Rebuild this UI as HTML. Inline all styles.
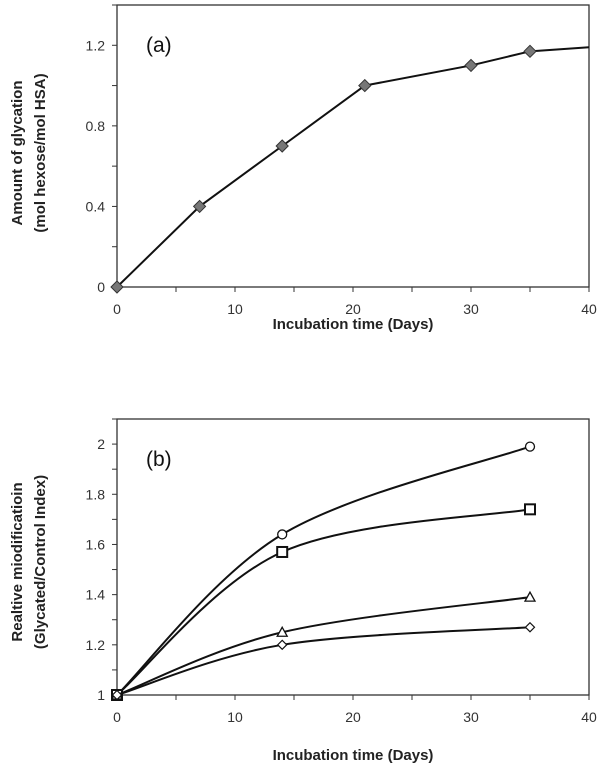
<!DOCTYPE html>
<html><head><meta charset="utf-8"><style>
body{margin:0;background:#fff}
svg{display:block;font-family:"Liberation Sans",sans-serif}
.tk{font-size:14px;fill:#333}
.ttl{font-size:15px;font-weight:bold;fill:#222}
</style></head><body>
<svg id="s" width="602" height="769"></svg>
<script>
const aDays=[0,7,14,21,30,35,40];
const aVals=[0,0.4,0.7,1.0,1.1,1.17,1.19];
const aXTicks=[0,10,20,30,40];
const aYTicks=[0,0.4,0.8,1.2];
const bDays=[0,14,35];
const bCircle=[1,1.64,1.99];
const bSquare=[1,1.57,1.74];
const bTriangle=[1,1.25,1.39];
const bDiamond=[1,1.2,1.27];
const bXTicks=[0,10,20,30,40];
const bYTicks=[1,1.2,1.4,1.6,1.8,2];
const NS="http://www.w3.org/2000/svg",S=document.getElementById('s');
function mk(t,a,p){const e=document.createElementNS(NS,t);for(const k in a)e.setAttribute(k,a[k]);(p||S).appendChild(e);return e;}
function axes(g,L,R,T,B,xmax,ymin,ymax,xt,yt,minorY,fmt){
  mk('rect',{x:L,y:T,width:R-L,height:B-T,fill:'none',stroke:'#333','stroke-width':1.3},g);
  const X=v=>L+(R-L)*v/xmax, Y=v=>B-(B-T)*(v-ymin)/(ymax-ymin);
  for(let v=0;v<=xmax;v+=5){mk('line',{x1:X(v),x2:X(v),y1:B,y2:B+5,stroke:'#333'},g);}
  for(let v=ymin;v<=ymax+1e-9;v+=minorY){mk('line',{x1:L-5,x2:L,y1:Y(v),y2:Y(v),stroke:'#333'},g);}
  xt.forEach(v=>{const t=mk('text',{x:X(v),y:B+27,'text-anchor':'middle',class:'tk'},g);t.textContent=v;
    
    });
  yt.forEach(v=>{const t=mk('text',{x:L-12,y:Y(v)+5,'text-anchor':'end',class:'tk'},g);t.textContent=fmt(v);
    
    });
  return [X,Y];
}
function smooth(pts){
  let d='M'+pts[0][0]+','+pts[0][1];
  for(let i=0;i<pts.length-1;i++){
    const p0=pts[i-1]||pts[i],p1=pts[i],p2=pts[i+1],p3=pts[i+2]||p2,k=6;
    d+=' C'+(p1[0]+(p2[0]-p0[0])/k)+','+(p1[1]+(p2[1]-p0[1])/k)+' '+(p2[0]-(p3[0]-p1[0])/k)+','+(p2[1]-(p3[1]-p1[1])/k)+' '+p2[0]+','+p2[1];
  }
  return d;
}
const ga=mk('g',{});


const [XA,YA]=axes(ga,117,589,5,287,40,0,1.4,aXTicks,aYTicks,0.2,v=>v===0?'0':v.toFixed(1));
const la=mk('polyline',{points:aDays.map((d,i)=>XA(d)+','+YA(aVals[i])).join(' '),fill:'none',stroke:'#111','stroke-width':2},ga);


aDays.forEach((d,i)=>{if(d===40)return;const x=XA(d),y=YA(aVals[i]);
  const m=mk('polygon',{points:`${x},${y-6} ${x+6},${y} ${x},${y+6} ${x-6},${y}`,fill:'#777',stroke:'#333','stroke-width':1},ga);
  
  });
let t=mk('text',{x:146,y:52,'font-size':21,fill:'#111'},ga);t.textContent='(a)';

t=mk('text',{x:353,y:329,'text-anchor':'middle',class:'ttl'},ga);t.textContent='Incubation time (Days)';

t=mk('text',{x:0,y:0,'text-anchor':'middle',class:'ttl',transform:'translate(22,153) rotate(-90)'},ga);t.textContent='Amount of glycation';

t=mk('text',{x:0,y:0,'text-anchor':'middle',class:'ttl',transform:'translate(45,153) rotate(-90)'},ga);t.textContent='(mol hexose/mol HSA)';

const gb=mk('g',{});


const [XB,YB]=axes(gb,117,589,419,695,40,1,2.1,bXTicks,bYTicks,0.1,v=>(Math.abs(v-Math.round(v))<1e-9)?String(Math.round(v)):v.toFixed(1));
const series=[['circle',bCircle],['square',bSquare],['triangle',bTriangle],['diamond',bDiamond]];
series.forEach(([nm,vals])=>{
  const p=mk('path',{d:smooth(bDays.map((d,i)=>[XB(d),YB(vals[i])])),fill:'none',stroke:'#111','stroke-width':2},gb);
  
  
  bDays.forEach((d,i)=>{const x=XB(d),y=YB(vals[i]);let m;
    if(nm==='circle')m=mk('circle',{cx:x,cy:y,r:4.5,fill:'#fff',stroke:'#111','stroke-width':1.3},gb);
    else if(nm==='square')m=mk('rect',{x:x-5,y:y-5,width:10,height:10,fill:'#fff',stroke:'#111','stroke-width':2},gb);
    else if(nm==='triangle')m=mk('polygon',{points:`${x},${y-5} ${x+5},${y+4} ${x-5},${y+4}`,fill:'#fff',stroke:'#111','stroke-width':1.3},gb);
    else m=mk('polygon',{points:`${x},${y-4.5} ${x+4.5},${y} ${x},${y+4.5} ${x-4.5},${y}`,fill:'#fff',stroke:'#111','stroke-width':1.2},gb);
    
    });
});
t=mk('text',{x:146,y:466,'font-size':21,fill:'#111'},gb);t.textContent='(b)';

t=mk('text',{x:353,y:760,'text-anchor':'middle',class:'ttl'},gb);t.textContent='Incubation time (Days)';

t=mk('text',{x:0,y:0,'text-anchor':'middle',class:'ttl',transform:'translate(22,562) rotate(-90)'},gb);t.textContent='Realtive miodificatioin';

t=mk('text',{x:0,y:0,'text-anchor':'middle',class:'ttl',transform:'translate(45,562) rotate(-90)'},gb);t.textContent='(Glycated/Control Index)';

</script>
</body></html>
